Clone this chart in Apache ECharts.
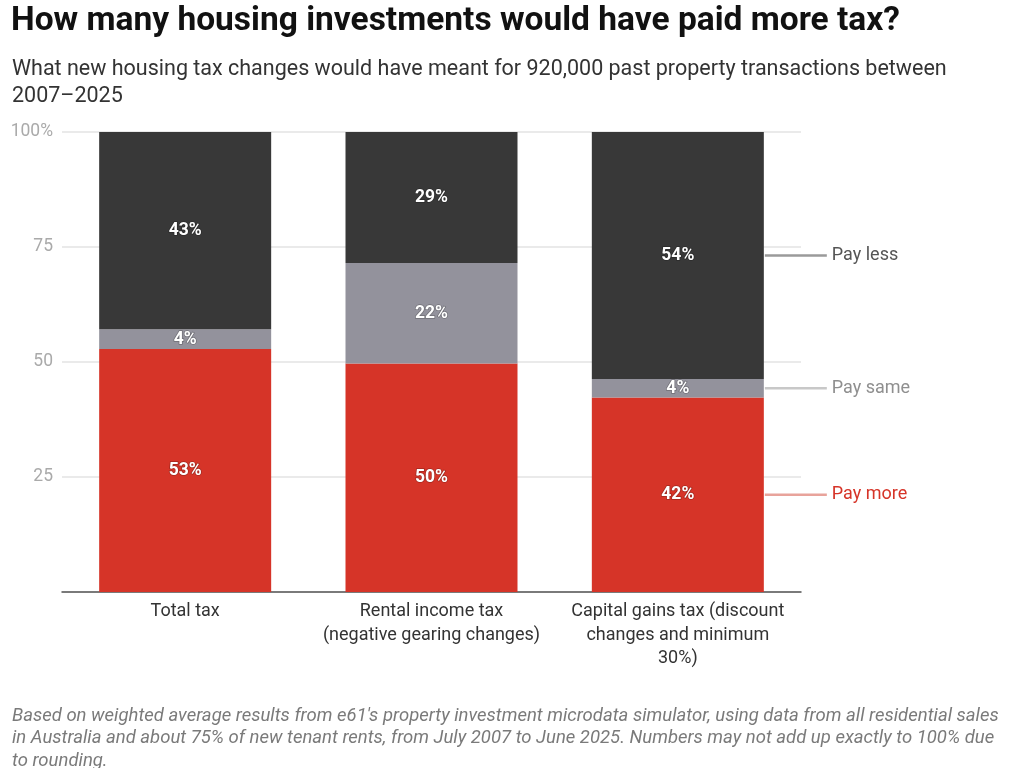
<!DOCTYPE html>
<html>
<head>
<meta charset="utf-8">
<script src="https://cdn.jsdelivr.net/npm/echarts@6/dist/echarts.min.js"></script>
<style>
  html, body { margin: 0; padding: 0; background: #fff; }
  #chart { width: 1024px; height: 768px; }
</style>
</head>
<body>
<div id="chart"></div>
<script>
// data (percent of transactions)
var categories = ['Total tax', 'Rental income tax\n(negative gearing changes)', 'Capital gains tax (discount\nchanges and minimum\n30%)'];
var payMore = [52.8, 49.7, 42.3];
var paySame = [4.3, 21.8, 4.0];
var payLess = [42.9, 28.5, 53.7];
var yTicks = [0, 25, 50, 75, 100];

var seriesNames = ['Pay more', 'Pay same', 'Pay less'];
var seriesColors = ['#d63428', '#93929c', '#383838'];
var lineColors = ['#e8a39b', '#c8c8c8', '#9a9a9a'];
var textColors = ['#d63428', '#8f8f8f', '#555555'];
var barWidth = 172;

var chart = echarts.init(document.getElementById('chart'));
var font = 'Roboto, "Noto Sans", sans-serif';

function barSeries(name, values, color) {
    return {
        name: name,
        type: 'bar',
        stack: 'all',
        barWidth: barWidth,
        data: values,
        itemStyle: { color: color },
        label: {
            show: true,
            position: 'inside',
            color: '#fff',
            fontFamily: font,
            fontWeight: 'bold',
            fontSize: 17.5,
            textBorderColor: 'rgba(0,0,0,0.25)',
            textBorderWidth: 1.5,
            formatter: function (p) { return Math.round(p.value) + '%'; }
        }
    };
}

var option = {
    animation: false,
    backgroundColor: '#fff',
    title: [
        {
            text: 'How many housing investments would have paid more tax?',
            left: 6, top: 0,
            textStyle: { fontFamily: font, fontSize: 33.5, fontWeight: 'bold', color: '#111' }
        },
        {
            text: 'What new housing tax changes would have meant for 920,000 past property transactions between\n2007\u20132025',
            left: 7, top: 51,
            textStyle: { fontFamily: font, fontSize: 21.5, fontWeight: 'normal', color: '#333', lineHeight: 27 }
        },
        {
            text: "Based on weighted average results from e61's property investment microdata simulator, using data from all residential sales\nin Australia and about 75% of new tenant rents, from July 2007 to June 2025. Numbers may not add up exactly to 100% due\nto rounding.",
            left: 7, top: 700,
            textStyle: { fontFamily: font, fontSize: 18.5, fontStyle: 'italic', fontWeight: 'normal', color: '#7a7a7a', lineHeight: 22.5 }
        }
    ],
    grid: { left: 62, right: 223, top: 132, bottom: 176 },
    xAxis: {
        type: 'category',
        data: categories,
        axisTick: { show: false },
        axisLine: { lineStyle: { color: '#555', width: 1.5 } },
        axisLabel: {
            fontFamily: font, fontSize: 18, color: '#333',
            lineHeight: 23.5, margin: 8, interval: 0
        }
    },
    yAxis: {
        type: 'value',
        min: yTicks[0],
        max: yTicks[yTicks.length - 1],
        interval: 25,
        axisLine: { show: false },
        axisTick: { show: false },
        splitLine: { lineStyle: { color: '#e3e3e3', width: 1.5 } },
        axisLabel: {
            fontFamily: font, fontSize: 17.5, color: '#aaaaaa', margin: 9,
            formatter: function (v) {
                if (v === 0) return '';
                return v === 100 ? v + '%' : String(v);
            }
        }
    },
    series: [
        barSeries(seriesNames[0], payMore, seriesColors[0]),
        barSeries(seriesNames[1], paySame, seriesColors[1]),
        barSeries(seriesNames[2], payLess, seriesColors[2])
    ]
};

chart.setOption(option);

// right-hand series labels, placed at the middle of each segment of the last bar
var last = categories.length - 1;
var stacks = [payMore, paySame, payLess];
var base = 0;
var graphics = [];
stacks.forEach(function (vals, i) {
    var mid = base + vals[last] / 2;
    base += vals[last];
    var pt = chart.convertToPixel({ xAxisIndex: 0, yAxisIndex: 0 }, [last, mid]);
    var x0 = pt[0] + barWidth / 2 + 1;
    graphics.push({
        type: 'line',
        shape: { x1: x0, y1: pt[1], x2: x0 + 62, y2: pt[1] },
        style: { stroke: lineColors[i], lineWidth: 2.5 }
    });
    graphics.push({
        type: 'text',
        x: x0 + 67, y: pt[1],
        style: {
            text: seriesNames[i],
            fill: textColors[i],
            font: '18px ' + font,
            verticalAlign: 'middle'
        }
    });
});
chart.setOption({ graphic: graphics });
</script>
</body>
</html>
